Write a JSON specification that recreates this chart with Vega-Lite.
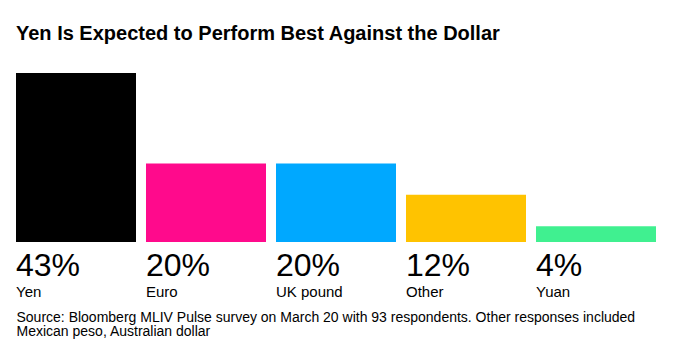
{
  "$schema": "https://vega.github.io/schema/vega-lite/v6.json",
  "width": 640,
  "height": 169,
  "autosize": {"type": "none"},
  "padding": {"left": 16, "top": 73, "right": 31, "bottom": 114},
  "background": "white",
  "config": {"view": {"stroke": null}, "font": "Liberation Sans"},
  "title": {
    "text": "Yen Is Expected to Perform Best Against the Dollar",
    "anchor": "start",
    "frame": "group",
    "font": "Liberation Sans",
    "fontSize": 20,
    "fontWeight": "bold",
    "color": "#000000",
    "offset": 29
  },
  "data": {
    "values": [
      {"currency": "Yen", "share": 43, "label": "43%"},
      {"currency": "Euro", "share": 20, "label": "20%"},
      {"currency": "UK pound", "share": 20, "label": "20%"},
      {"currency": "Other", "share": 12, "label": "12%"},
      {"currency": "Yuan", "share": 4, "label": "4%"}
    ]
  },
  "encoding": {
    "x": {
      "field": "currency",
      "type": "nominal",
      "sort": null,
      "scale": {"paddingInner": 0.0769, "paddingOuter": 0},
      "axis": {
        "domain": false,
        "ticks": false,
        "labels": false,
        "tickSize": 0,
        "title": ["Source: Bloomberg MLIV Pulse survey on March 20 with 93 respondents. Other responses included", "Mexican peso, Australian dollar"],
        "titleAnchor": "start",
        "titleAlign": "left",
        "titleBaseline": "alphabetic",
        "titleFont": "Liberation Sans",
        "titleFontSize": 14,
        "titleFontWeight": "normal",
        "titleColor": "#000000",
        "titleLineHeight": 14.5,
        "titlePadding": 79
      }
    }
  },
  "layer": [
    {
      "mark": {"type": "bar"},
      "encoding": {
        "y": {"field": "share", "type": "quantitative", "scale": {"domain": [0, 43], "nice": false}, "axis": null},
        "color": {
          "field": "currency",
          "type": "nominal",
          "sort": null,
          "scale": {
            "domain": ["Yen", "Euro", "UK pound", "Other", "Yuan"],
            "range": ["#000000", "#ff0a8c", "#00a8ff", "#ffc300", "#40f090"]
          },
          "legend": null
        }
      }
    },
    {
      "mark": {"type": "text", "align": "left", "baseline": "alphabetic", "dy": 34, "fontSize": 32, "font": "Liberation Sans", "color": "#000000"},
      "encoding": {
        "x": {"field": "currency", "type": "nominal", "sort": null, "bandPosition": 0},
        "y": {"datum": 0, "type": "quantitative"},
        "text": {"field": "label"}
      }
    },
    {
      "mark": {"type": "text", "align": "left", "baseline": "alphabetic", "dy": 55, "fontSize": 15, "font": "Liberation Sans", "color": "#000000"},
      "encoding": {
        "x": {"field": "currency", "type": "nominal", "sort": null, "bandPosition": 0},
        "y": {"datum": 0, "type": "quantitative"},
        "text": {"field": "currency"}
      }
    }
  ]
}
